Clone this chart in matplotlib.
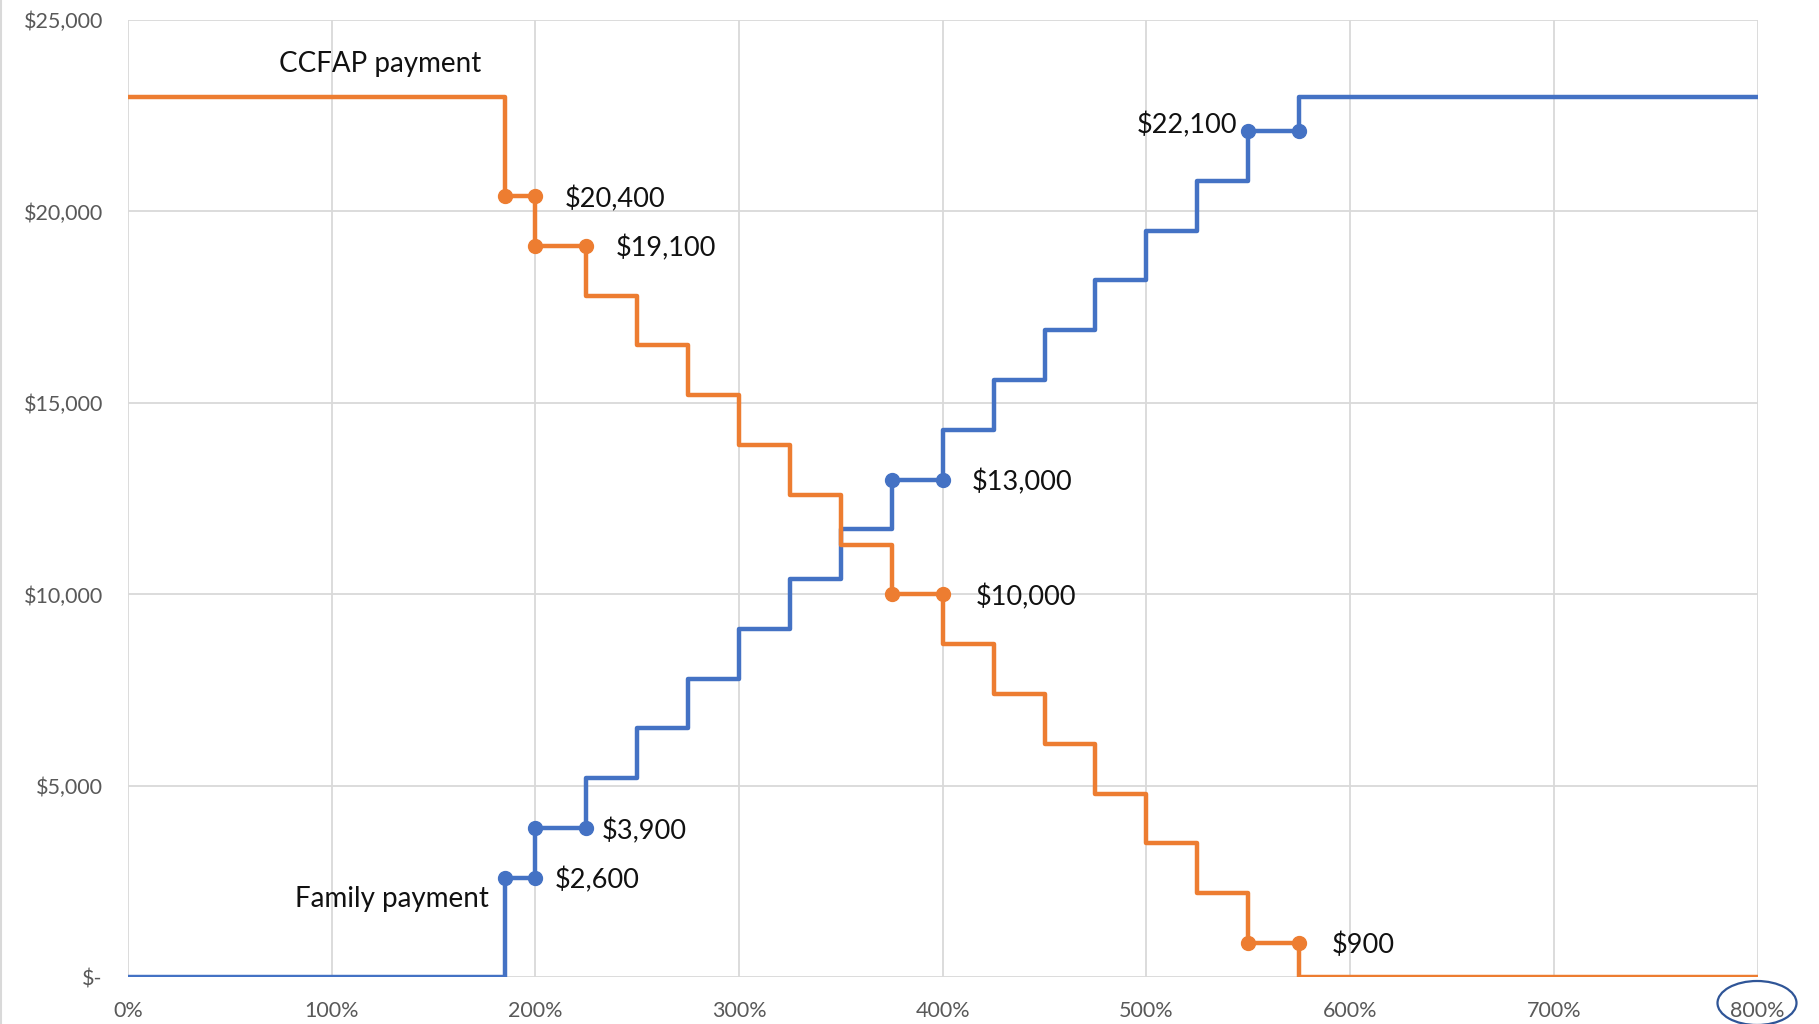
import matplotlib.pyplot as plt
from matplotlib.patches import Ellipse
from matplotlib.lines import Line2D
from matplotlib.ticker import FuncFormatter

# Income as % of poverty level, step breakpoints
income_pct = [0, 185, 200, 225, 250, 275, 300, 325, 350, 375, 400,
              425, 450, 475, 500, 525, 550, 575, 800]
ccfap_pay = [23000, 20400, 19100, 17800, 16500, 15200, 13900, 12600, 11300, 10000,
             8700, 7400, 6100, 4800, 3500, 2200, 900, 0, 0]
family_pay = [0, 2600, 3900, 5200, 6500, 7800, 9100, 10400, 11700, 13000,
              14300, 15600, 16900, 18200, 19500, 20800, 22100, 23000, 23000]

# Highlighted points (pairs: start and end of a step)
ccfap_mark_x = [185, 200, 200, 225, 375, 400, 550, 575]
ccfap_mark_y = [20400, 20400, 19100, 19100, 10000, 10000, 900, 900]
family_mark_x = [185, 200, 200, 225, 375, 400, 550, 575]
family_mark_y = [2600, 2600, 3900, 3900, 13000, 13000, 22100, 22100]

x_ticks = [0, 100, 200, 300, 400, 500, 600, 700, 800]
y_ticks = [0, 5000, 10000, 15000, 20000, 25000]

ORANGE = '#ED7D31'
BLUE = '#4472C4'

# label offsets in points (one per highlighted pair)
ccfap_offsets = [(21.5, -2), (21, -2), (24, -2), (23.5, -2)]
family_offsets = [(14, -2), (11.5, -2), (21, -2), (-8, 4)]

plt.rcParams['font.family'] = ['Lato', 'DejaVu Sans']

fig = plt.figure(figsize=(18.19, 10.24), dpi=100)
ax = fig.add_axes([0.0703, 0.0455, 0.8959, 0.935])

ax.step(income_pct, family_pay, where='post', color=BLUE, lw=3.2, zorder=3)
ax.step(income_pct, ccfap_pay, where='post', color=ORANGE, lw=3.2, zorder=4)
ax.plot(family_mark_x, family_mark_y, 'o', color=BLUE, ms=10, zorder=5)
ax.plot(ccfap_mark_x, ccfap_mark_y, 'o', color=ORANGE, ms=10, zorder=6)

# value labels at the end of each highlighted step
label_style = dict(textcoords='offset points', fontsize=19.5, color='#111111', va='center')
for k, i in enumerate(range(1, len(ccfap_mark_x), 2)):
    ax.annotate('${:,}'.format(ccfap_mark_y[i]), (ccfap_mark_x[i], ccfap_mark_y[i]),
                xytext=ccfap_offsets[k], ha='left', **label_style)
for k, i in enumerate(range(1, len(family_mark_x), 2)):
    dx, dy = family_offsets[k]
    if dx < 0:
        # label sits to the left of the step
        ax.annotate('${:,}'.format(family_mark_y[i]), (family_mark_x[i - 1], family_mark_y[i]),
                    xytext=(dx, dy), ha='right', **label_style)
    else:
        ax.annotate('${:,}'.format(family_mark_y[i]), (family_mark_x[i], family_mark_y[i]),
                    xytext=(dx, dy), ha='left', **label_style)

ax.text(123.6, 23850, 'CCFAP payment', fontsize=20, color='#111111', ha='center', va='center')
ax.text(129.8, 2040, 'Family payment', fontsize=20, color='#111111', ha='center', va='center')

ax.set_xlim(0, 800)
ax.set_ylim(0, 25000)
ax.set_xticks(x_ticks)
ax.set_yticks(y_ticks)
ax.xaxis.set_major_formatter(FuncFormatter(lambda v, p: '{:.0f}%'.format(v)))
ax.yaxis.set_major_formatter(FuncFormatter(lambda v, p: '$-' if v == 0 else '${:,.0f}'.format(v)))
ax.tick_params(axis='both', length=0, labelsize=15.5, labelcolor='#595959')
ax.tick_params(axis='y', pad=18)
ax.tick_params(axis='x', pad=17)
ax.grid(True, color='#D9D9D9', lw=1.3)
ax.set_axisbelow(True)
for s in ax.spines.values():
    s.set_visible(False)

# circle drawn around the 800% tick label
fig.patches.append(Ellipse((1757 / 1819, 1 - 1003 / 1024), 79 / 1819, 44 / 1024,
                           transform=fig.transFigure, fill=False,
                           edgecolor='#2F5597', lw=1.6))
# thin chart border on the left edge
fig.add_artist(Line2D([0.0008, 0.0008], [0, 1], transform=fig.transFigure,
                      color='#D9D9D9', lw=1.5))

plt.savefig('out.png', dpi=100)
